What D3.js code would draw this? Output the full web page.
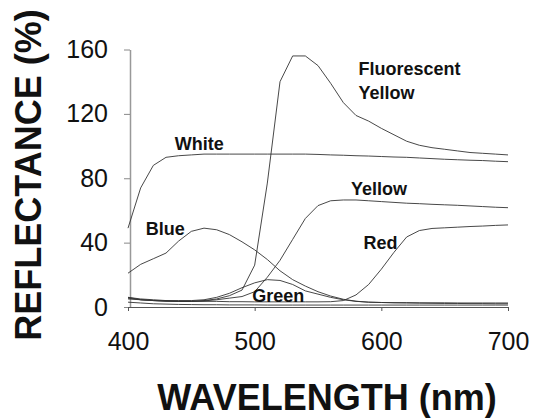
<!DOCTYPE html>
<html>
<head>
<meta charset="utf-8">
<script src="https://cdn.jsdelivr.net/npm/d3@7"></script>
<style>
  body { margin: 0; background: #fff; }
  svg { display: block; font-family: "Liberation Sans", Arial, sans-serif; }
</style>
</head>
<body>
<div id="chart"></div>
<script>
// wavelength samples (nm)
const wavelength = [400, 410, 420, 430, 440, 450, 460, 470, 480, 490, 500, 510, 520, 530, 540, 550,
  560, 570, 580, 590, 600, 610, 620, 630, 640, 650, 660, 670, 680, 690, 700];

// reflectance (%) per sample
const white = [49, 74, 88, 93, 94, 94.5, 95, 95, 95, 95, 95, 95, 95, 95, 95, 94.8,
  94.5, 94.3, 94, 93.8, 93.5, 93.2, 93, 92.6, 92.2, 91.8, 91.5, 91.2, 91, 90.6, 90.3];
const blue = [21, 26.5, 30, 33.5, 41, 47, 49, 48, 45, 40.5, 35.5, 29.5, 22.5, 17, 13, 9.5,
  6.8, 4.8, 3.6, 3, 2.8, 2.7, 2.7, 2.6, 2.6, 2.6, 2.5, 2.5, 2.5, 2.5, 2.5];
const green = [6, 5, 4.5, 4, 4, 4, 4.5, 6, 8.5, 12, 15, 17, 16.5, 14, 10, 8,
  6, 4.5, 3.5, 3, 2.8, 2.6, 2.5, 2.4, 2.3, 2.2, 2.2, 2.1, 2.1, 2, 2];
const yellow = [5.5, 4.5, 4, 3.8, 3.5, 3.5, 3.8, 4.5, 5.5, 6.5, 9.5, 18.5, 29, 42, 55, 63,
  66, 66.5, 66.5, 66, 65.5, 65, 64.5, 64.2, 63.8, 63.5, 63.2, 62.8, 62.4, 62, 61.7];
const red = [6, 4.5, 4, 3.8, 3.5, 3.5, 3.5, 3.5, 3.3, 3.3, 3.2, 3.2, 3.2, 3.2, 3.2, 3.2,
  3.3, 4, 7.5, 14, 23.5, 34, 43.5, 47.5, 48.8, 49.2, 49.6, 50, 50.3, 50.7, 51];
const fluorescentYellow = [5, 4.5, 4, 3.5, 3.5, 3.5, 4, 5, 7, 10.5, 26, 77, 140, 156, 156, 150,
  139, 127, 119, 115.5, 111, 107, 103, 100.5, 99, 98, 97, 96, 95.5, 95, 94.5];
const black = [3, 2.5, 2, 1.8, 1.6, 1.5, 1.4, 1.4, 1.3, 1.3, 1.3, 1.2, 1.2, 1.2, 1.2, 1.2,
  1.2, 1.2, 1.2, 1.2, 1.2, 1.2, 1.2, 1.2, 1.2, 1.2, 1.2, 1.2, 1.2, 1.2, 1.2];

const series = [white, blue, green, yellow, red, fluorescentYellow, black];

// axis ticks
const xTicks = [400, 500, 600, 700];
const yTicks = [0, 40, 80, 120, 160];

// curve labels: text, wavelength, reflectance
const labelText = ["Fluorescent", "Yellow", "White", "Blue", "Yellow", "Red", "Green"];
const labelWl = [582, 582, 437, 414, 576, 586, 498];
const labelVal = [144, 129, 97.6, 44.7, 69.6, 36, 3.4];

let width = 534,
  height = 420;

// create xScale
let xScale = d3.scaleLinear().domain([400, 700]).range([128, 508]);

// create yScale
let yScale = d3.scaleLinear().domain([0, 160]).range([307, 49.5]);

// create SVG
let svg = d3
  .select("#chart")
  .append("svg")
  .attr("width", width)
  .attr("height", height);

// create yAxis
let yAxis = svg
  .append("g")
  .attr("transform", "translate(130,0)")
  .call(d3.axisLeft(yScale).tickValues(yTicks).tickSize(6).tickSizeOuter(0).tickPadding(16));

yAxis.select(".domain").attr("stroke", "#999").attr("stroke-width", 1.5);
yAxis.selectAll(".tick line").attr("stroke", "#888");
yAxis.selectAll(".tick text")
  .attr("fill", "#111")
  .style("font-size", "25px");

// create xAxis
let xAxis = svg
  .append("g")
  .attr("transform", "translate(0,307)")
  .call(d3.axisBottom(xScale).tickValues(xTicks).tickSize(4).tickSizeOuter(0).tickPadding(21));

xAxis.select(".domain").attr("stroke", "#555").attr("stroke-width", 1);
xAxis.selectAll(".tick line").attr("stroke", "#555");
xAxis.selectAll(".tick text")
  .attr("fill", "#111")
  .style("font-size", "25px");

// line generator
let line = d3
  .line()
  .x((d, i) => xScale(wavelength[i]))
  .y(d => yScale(d));

svg
  .append("g")
  .selectAll("path")
  .data(series)
  .enter()
  .append("path")
  .attr("d", line)
  .attr("fill", "none")
  .attr("stroke", "#333")
  .attr("stroke-width", 0.9);

// curve labels
svg
  .append("g")
  .selectAll("text")
  .data(labelText)
  .enter()
  .append("text")
  .attr("x", (d, i) => xScale(labelWl[i]))
  .attr("y", (d, i) => yScale(labelVal[i]))
  .attr("fill", "#111")
  .style("font-size", "18px")
  .style("font-weight", "bold")
  .text(d => d);

// axis titles
svg
  .append("text")
  .text("WAVELENGTH (nm)")
  .attr("x", 327)
  .attr("y", 410)
  .attr("text-anchor", "middle")
  .attr("fill", "#111")
  .style("font-size", "36px")
  .style("font-weight", "bold");

svg
  .append("text")
  .text("REFLECTANCE (%)")
  .attr("transform", "rotate(-90)")
  .attr("x", -175)
  .attr("y", 41)
  .attr("text-anchor", "middle")
  .attr("fill", "#111")
  .style("font-size", "36px")
  .style("font-weight", "bold");
</script>
</body>
</html>
